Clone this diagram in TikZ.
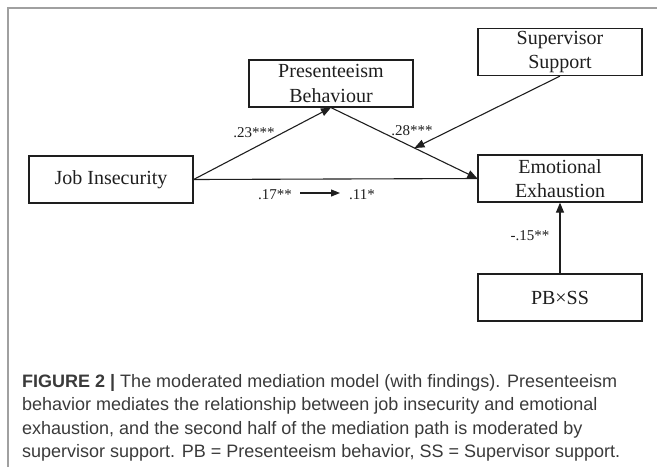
\documentclass[tikz,border=0pt]{standalone}
\usepackage{fontspec}
\setmainfont{Liberation Serif}
\newfontfamily\capfont{Liberation Sans}
\usetikzlibrary{arrows.meta}
\definecolor{framegray}{HTML}{A0A0A0}
\definecolor{captext}{HTML}{3A3A3A}
\definecolor{ink}{HTML}{1E1E1E}
\begin{document}
\begin{tikzpicture}[x=1pt,y=-1pt,
  box/.style={draw=ink, line width=1.2pt, minimum width=164pt, minimum height=47pt,
    inner sep=0pt, align=center, font=\fontsize{20}{24.5}\selectfont, text=ink},
  lbl/.style={font=\fontsize{15}{18}\selectfont, text=ink, inner sep=0pt},
  arr/.style={draw=ink, line width=1.1pt, -{Triangle[length=10pt,width=8pt]}},
  plain/.style={draw=ink, line width=1.1pt},
  captxt/.style={anchor=base west, inner sep=0pt, text=captext,
    font=\capfont\fontsize{18}{23.6}\selectfont}]
\useasboundingbox (0,0) rectangle (657,467);
\draw[framegray, line width=1.3pt] (8,467) -- (8,8) -- (657,8);

\node[box] (ji) at (111,179.5) {Job Insecurity};
\node[box] (pb) at (331,83.5) {Presenteeism\\Behaviour};
\node[box] (ss) at (560,52) {Supervisor\\Support};
\node[box] (ee) at (560,178.5) {Emotional\\Exhaustion};
\node[box] (pbss) at (560,297.5) {PB×SS};

\draw[arr] (ji.east) -- (pb.south);
\draw[arr] (pb.south) -- (ee.west) coordinate[pos=0.57] (mid);
\draw[plain] (ji.east) -- (ee.west);
\draw[arr] (ss.south) -- (mid);
\draw[arr] (pbss.north) -- (ee.south);

\coordinate (s1) at (300,193);
\coordinate (s2) at (340,193);
\draw[draw=ink, line width=1.1pt, -{Triangle[length=9pt,width=7pt]}] (s1) -- (s2);

\node[lbl] (l23) at (254,133) {.23***};
\node[lbl] (l28) at (412,131) {.28***};
\node[lbl] (l17) at (275,195) {.17**};
\node[lbl] (l11) at (362,195) {.11*};
\node[lbl] (l15) at (530,236) {-.15**};

\node[captxt] (c1) at (22,387) {\textbf{FIGURE 2 |} The moderated mediation model (with findings). Presenteeism};
\node[captxt] (c2) at (22,410.6) {behavior mediates the relationship between job insecurity and emotional};
\node[captxt] (c3) at (22,434.2) {exhaustion, and the second half of the mediation path is moderated by};
\node[captxt] (c4) at (22,457.8) {supervisor support. PB = Presenteeism behavior, SS = Supervisor support.};
\end{tikzpicture}
\end{document}
